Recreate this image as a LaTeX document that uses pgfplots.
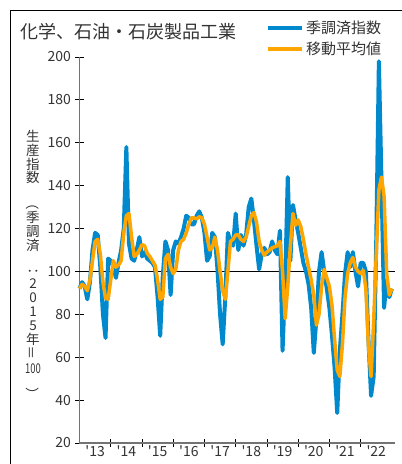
\documentclass[border=0pt]{standalone}
\usepackage{fontspec}
\setmainfont{Noto Sans CJK JP}
\usepackage{graphicx}
\usepackage{pgfplots}
\pgfplotsset{compat=1.18}
\definecolor{cblue}{RGB}{0,137,204}
\definecolor{corange}{RGB}{255,165,0}
\definecolor{ctext}{RGB}{51,51,51}
\begin{document}
\begin{tikzpicture}[x=1pt,y=1pt]
\useasboundingbox (0pt,0pt) rectangle (402pt,464pt);
\begin{scope}
\clip (0pt,0pt) rectangle (402pt,464pt);
\draw[line width=1.3pt] (10.5pt,-20pt) -- (10.5pt,453.5pt) -- (430pt,453.5pt);
\end{scope}
\node[anchor=west, text=ctext, font=\fontsize{18}{18}\selectfont, inner sep=0pt] at (20pt,432pt) {化学、石油・石炭製品工業};
\node[text=ctext, align=center, font=\fontsize{13.5}{13.9}\selectfont, inner sep=0pt] at (33pt,198.5pt) {生\\産\\指\\数\\\rotatebox{-90}{（}\\季\\調\\済\\\rotatebox{-90}{：}\\2\\0\\1\\5\\年\\\rotatebox{90}{＝}\\\scalebox{0.7}[1]{100}\\\rotatebox{-90}{）}};
\begin{axis}[
  at={(79.5pt,21pt)}, anchor=south west,
  scale only axis, width=315pt, height=386pt,
  xmin=0, xmax=121, ymin=20, ymax=200,
  axis lines=left,
  axis line style={-, draw=black!55, line width=1.2pt},
  tick style={black, line width=0.8pt},
  tick align=center, major tick length=8pt,
  ytick={20,40,...,200},
  xtick={12,24,...,108}, xticklabels={},
  extra x ticks={6,18,...,114},
  extra x tick labels={\textquotesingle13,\textquotesingle14,\textquotesingle15,\textquotesingle16,\textquotesingle17,\textquotesingle18,\textquotesingle19,\textquotesingle20,\textquotesingle21,\textquotesingle22},
  extra x tick style={major tick length=0pt},
  /pgf/number format/assume math mode=true,
  ticklabel style={font=\fontsize{14}{14}\selectfont, text=ctext},
  yticklabel style={xshift=-1pt},
  xticklabel style={yshift=1pt},
  clip=false,
  legend style={at={(0.592,1.10)}, anchor=north west, draw=none, fill=none,
    font=\fontsize{15}{15}\selectfont, text=ctext, row sep=3pt,
    inner sep=0pt, nodes={inner sep=2pt}},
  legend cell align=left,
  legend image code/.code={\draw[#1] (0pt,0pt) -- (34pt,0pt);},
]
\addplot[black, line width=0.9pt, forget plot] coordinates {(0,100) (121,100)};
\addplot[cblue, line width=4pt, line join=round] coordinates {
(0,92) (1,95) (2,93) (3,87) (4,95) (5,110) (6,118) (7,117) (8,102) (9,80)
(10,69) (11,106) (12,105) (13,102) (14,97) (15,104) (16,110) (17,120) (18,158) (19,113)
(20,106) (21,105) (22,110) (23,116) (24,107) (25,109) (26,106) (27,105) (28,104) (29,102)
(30,88) (31,70) (32,98) (33,114) (34,110) (35,89) (36,110) (37,114) (38,113) (39,116)
(40,120) (41,126) (42,125) (43,122) (44,122) (45,126) (46,128) (47,125) (48,118) (49,105)
(50,107) (51,118) (52,116) (53,101) (54,80) (55,66) (56,88) (57,118) (58,114) (59,112)
(60,127) (61,110) (62,117) (63,112) (64,117) (65,130) (66,134) (67,124) (68,112) (69,101)
(70,108) (71,111) (72,108) (73,109) (74,114) (75,110) (76,108) (77,119) (78,63) (79,95)
(80,144) (81,105) (82,131) (83,124) (84,118) (85,111) (86,104) (87,100) (88,94) (89,83)
(90,62) (91,78) (92,100) (93,109) (94,100) (95,92) (96,83) (97,70) (98,55) (99,34)
(100,63) (101,80) (102,99) (103,109) (104,102) (105,109) (106,100) (107,93) (108,104) (109,104)
(110,100) (111,68) (112,42) (113,51) (114,115) (115,198) (116,142) (117,83) (118,96) (119,88)
(120,92)};
\addlegendentry{季調済指数}
\addplot[corange, line width=3.5pt, line join=round] coordinates {
(0,92) (1,94) (2,93) (3,91) (4,96) (5,105) (6,114) (7,115) (8,108) (9,95)
(10,87.5) (11,87) (12,96) (13,105) (14,102) (15,103) (16,105) (17,118) (18,126) (19,127)
(20,116) (21,107) (22,108) (23,110) (24,112.5) (25,112) (26,108.5) (27,107) (28,105) (29,103)
(30,96) (31,87) (32,88) (33,106) (34,108) (35,102) (36,99) (37,101) (38,110) (39,114)
(40,115) (41,118) (42,122) (43,125) (44,125) (45,124.5) (46,125.5) (47,125) (48,122) (49,116)
(50,110) (51,111) (52,116) (53,110) (54,100) (55,91) (56,87) (57,100) (58,114) (59,115)
(60,117) (61,117) (62,115) (63,114) (64,116) (65,121) (66,126) (67,127.5) (68,123) (69,114)
(70,110) (71,107.5) (72,109) (73,110) (74,111) (75,111.5) (76,112) (77,114) (78,100) (79,78)
(80,93) (81,112) (82,127) (83,121.5) (84,124) (85,121) (86,115) (87,108) (88,102) (89,96)
(90,89) (91,75) (92,80) (93,93) (94,101) (95,97) (96,93) (97,84) (98,68) (99,54)
(100,51) (101,66) (102,88) (103,99) (104,104) (105,106.5) (106,102) (107,100) (108,99) (109,100.5)
(110,92) (111,65) (112,51) (113,77) (114,108) (115,138) (116,144) (117,135) (118,99) (119,89)
(120,92)};
\addlegendentry{移動平均値}
\end{axis}
\end{tikzpicture}
\end{document}
